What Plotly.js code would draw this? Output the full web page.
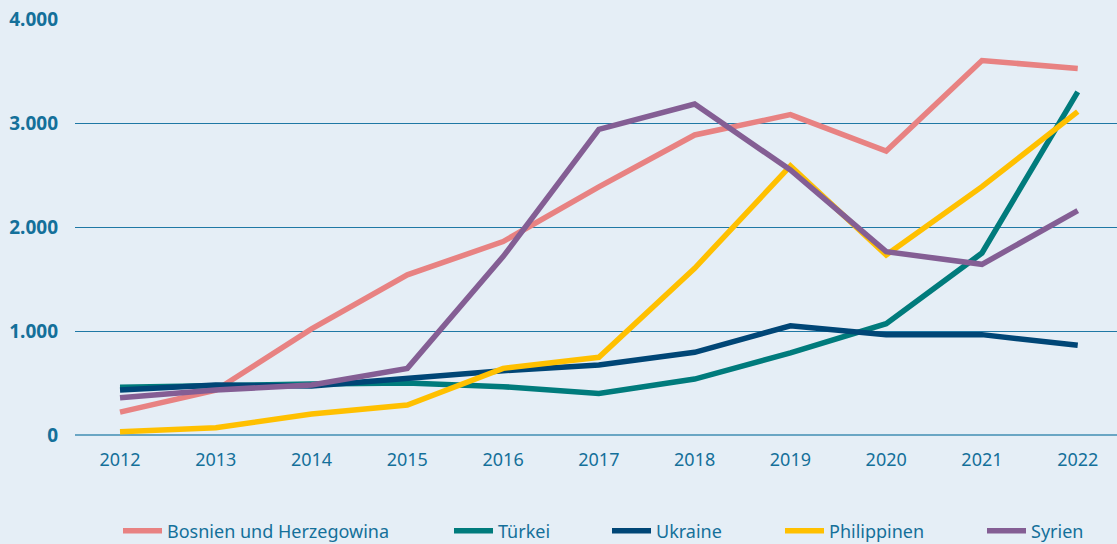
<!DOCTYPE html>
<html><head><meta charset="utf-8">
<script src="https://cdn.plot.ly/plotly-3.0.1.min.js"></script>
<style>html,body{margin:0;padding:0;background:#e5eef6;}#c{width:1117px;height:544px;}</style>
</head><body><div id="c"></div>
<script>
const years = [2012,2013,2014,2015,2016,2017,2018,2019,2020,2021,2022];
const bosnien = [220,430,1020,1540,1860,2385,2885,3080,2730,3600,3525];
const tuerkei = [460,480,490,500,465,400,538,790,1070,1750,3300];
const ukraine = [432,480,471,545,618,673,795,1050,965,965,862];
const philippinen = [32,70,202,288,641,747,1603,2587,1731,2388,3109];
const syrien = [359,433,481,641,1715,2939,3183,2548,1763,1641,2157];
const names = ['Bosnien und Herzegowina','Türkei','Ukraine','Philippinen','Syrien'];
const series = [bosnien,tuerkei,ukraine,philippinen,syrien];
const colors = ['#e88282','#007b7c','#004676','#ffc000','#845e94'];
const yTicks = [0,1000,2000,3000,4000];
const legendLeft = [118,449,607,780,982];
const legendKeys = ['legend','legend2','legend3','legend4','legend5'];

const traces = series.map((s,i)=>({
  x: years, y: s, name: names[i], type:'scatter', mode:'lines',
  line:{color:colors[i], width:5.5}, legend: legendKeys[i]
}));

const layout = {
  width:1117, height:544,
  paper_bgcolor:'#e5eef6', plot_bgcolor:'#e5eef6',
  margin:{l:75,r:0,t:19,b:109},
  separators:',.',
  font:{family:'Noto Sans, sans-serif', color:'#14709a'},
  showlegend:true,
  xaxis:{range:[2011.53,2022.41], tickvals:years, ticktext:years.map(String),
    showgrid:false, zeroline:false, showline:false, ticks:'', automargin:false,
    tickfont:{size:18, color:'#14709a'}, ticklabelstandoff:12},
  yaxis:{range:[0,4000], tickvals:yTicks, tickformat:',d', automargin:false,
    showgrid:true, gridcolor:'#1f78a5', gridwidth:1,
    zeroline:true, zerolinecolor:'#6aa6c4', zerolinewidth:1.5,
    showline:false, ticks:'',
    tickfont:{size:19, color:'#14709a', weight:'bold'}, ticklabelstandoff:16}
};
legendKeys.forEach((k,i)=>{
  layout[k] = {orientation:'h', xref:'container', yref:'container',
    x: legendLeft[i]/1117, xanchor:'left', y: 1-531/544, yanchor:'middle',
    font:{size:18, color:'#14709a'}, bgcolor:'rgba(0,0,0,0)', itemwidth:39};
});
Plotly.newPlot('c', traces, layout, {displayModeBar:false, staticPlot:true});
</script>
</body></html>
